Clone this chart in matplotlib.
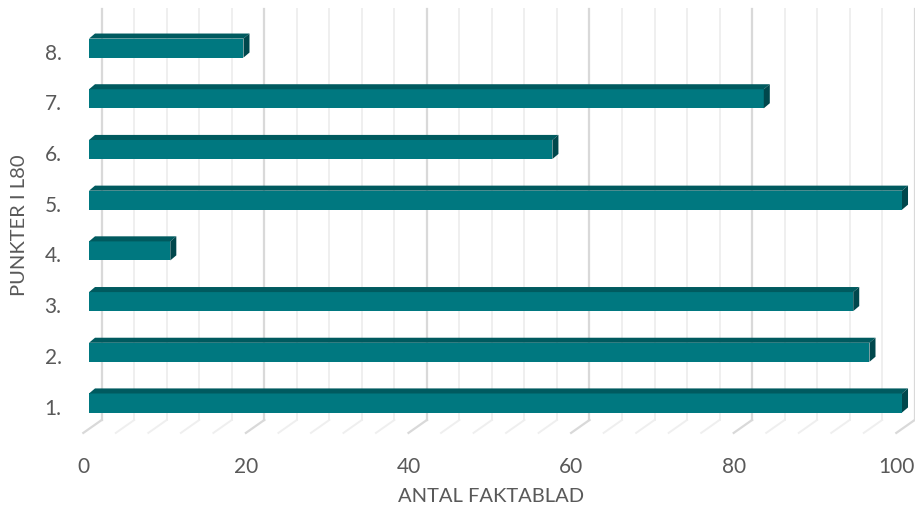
import numpy as np
import matplotlib
matplotlib.use("Agg")
import matplotlib.pyplot as plt
from matplotlib.patches import Polygon

# data
kategorier = ["1.", "2.", "3.", "4.", "5.", "6.", "7.", "8."]
antal = [100, 96, 94, 10, 100, 57, 83, 19]
x_ticks = [0, 20, 40, 60, 80, 100]
minor_ticks = np.arange(0, 101, 4)

plt.rcParams['font.family'] = ['Lato', 'DejaVu Sans']

front_c = '#007880'
top_c = '#005a5f'
side_c = '#00474c'
text_c = '#595959'

fig = plt.figure(figsize=(9.15, 5.12), dpi=100)
W, H = 915, 512
# px = 89 + 8.13*v (bar front plane), category spacing 50.7 px
xlo, xhi = -2, 101.5
ylo, yhi = 0.2, 8.9
left = (89 + 8.13 * xlo) / W
width = 8.13 * (xhi - xlo) / W
bottom = (109 + (ylo - 1) * 50.7) / H
height = 50.7 * (yhi - ylo) / H
ax = fig.add_axes([left, bottom, width, height])
ax.set_xlim(xlo, xhi)
ax.set_ylim(ylo, yhi)

# 3D-ish offsets (data units)
bar_dx, bar_dy = 0.74, 0.10
wall_dx, wall_y0 = 1.56, 0.665
floor_dx, floor_y0 = -0.70, 0.41
wall_top = 8.78

# back wall grid + floor lines
for t in minor_ticks:
    major = t % 20 == 0
    col = '#d9d9d9' if major else '#efefef'
    lw = 1.6 if major else 1.4
    ax.plot([t + wall_dx, t + wall_dx], [wall_y0, wall_top], color=col, lw=lw,
            clip_on=False, zorder=1)
    ax.plot([t + wall_dx, t + floor_dx], [wall_y0, floor_y0], color=col, lw=lw,
            clip_on=False, zorder=1)

# bars
y = np.arange(1, len(kategorier) + 1)
h = 0.375
ax.barh(y, antal, height=h, color=front_c, zorder=3, linewidth=0)
for yi, v in zip(y, antal):
    top = yi + h / 2
    bot = yi - h / 2
    ax.add_patch(Polygon([(0, top), (bar_dx, top + bar_dy), (v + bar_dx, top + bar_dy), (v, top)],
                         closed=True, facecolor=top_c, edgecolor='none', zorder=3, clip_on=False))
    ax.add_patch(Polygon([(v, bot), (v, top), (v + bar_dx, top + bar_dy), (v + bar_dx, bot + bar_dy)],
                         closed=True, facecolor=side_c, edgecolor='none', zorder=3, clip_on=False))

for s in ax.spines.values():
    s.set_visible(False)

ax.set_xticks(np.array(x_ticks) + floor_dx, [str(t) for t in x_ticks])
ax.set_yticks(y - 0.07, kategorier)
ax.tick_params(axis='x', length=0, pad=10, labelsize=15, labelcolor=text_c)
ax.tick_params(axis='y', length=0, pad=8, labelsize=15, labelcolor=text_c)

fig.text(491 / W, 1 - 497 / H, 'ANTAL FAKTABLAD', ha='center', va='center',
         fontsize=14.5, color=text_c)
fig.text(20 / W, 1 - 225 / H, 'PUNKTER I L80', ha='center', va='center',
         rotation=90, fontsize=14.5, color=text_c)

fig.savefig('out.png', dpi=100)
